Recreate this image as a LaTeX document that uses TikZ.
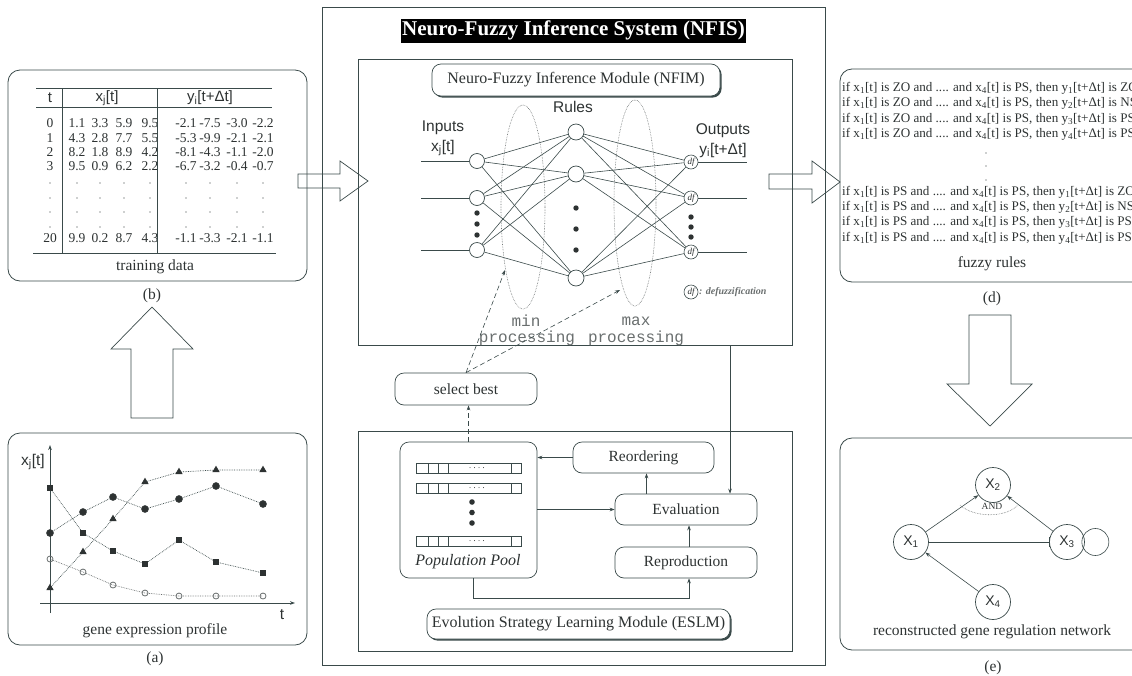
\documentclass[tikz,border=0pt]{standalone}
\usepackage{fontspec}
\setmainfont{Liberation Serif}
\setsansfont{Liberation Sans}
\setmonofont{Liberation Mono}
\usetikzlibrary{arrows.meta,calc,shadows,plotmarks}
\definecolor{ln}{RGB}{58,74,74}
\definecolor{tx}{RGB}{45,50,50}
\definecolor{gy}{RGB}{105,110,110}
\newcommand{\fs}[1]{\fontsize{#1}{#1}\selectfont}
\newcommand{\lo}[1]{\textsubscript{#1}}
\newcommand{\frule}[3]{if x\lo{1}[t] is #1 and .... and x\lo{4}[t] is PS, then y\lo{#2}[t+Δt] is #3}
\begin{document}
\begin{tikzpicture}[x=1pt,y=-1pt,
  every node/.style={text=tx},
  panel/.style={draw=ln, line width=0.8pt, rounded corners=12pt, inner sep=0pt},
  frame/.style={draw=ln, line width=0.8pt, inner sep=0pt},
  rbox/.style={draw=ln, line width=0.7pt, rounded corners=9pt, font=\fs{15.5}, inner sep=0pt},
  lbl/.style={font=\fs{15.5}},
  sflbl/.style={font=\sffamily\fs{15.5}},
  mono/.style={font=\ttfamily\fs{16}, text=gy, inner sep=0pt},
  num/.style={font=\fs{13.5}, inner sep=0pt},
  neuron/.style={circle, draw=ln, line width=0.7pt, minimum size=15pt, inner sep=0pt},
  dfn/.style={circle, draw=ln, line width=0.6pt, minimum size=14pt, inner sep=0pt, font=\itshape\fs{9}},
  wire/.style={draw=ln, line width=0.6pt},
  arr/.style={draw=ln, line width=0.6pt, -{Stealth[length=5pt,width=3.6pt]}},
  dasharr/.style={arr, dash pattern=on 5pt off 3pt},
  blockarrow/.style={draw=ln, line width=0.7pt, line join=miter},
  gene/.style={circle, draw=ln, line width=0.7pt, minimum size=35pt, inner sep=0pt, font=\sffamily\fs{14}},
  frl/.style={anchor=west, font=\fs{13.1}, inner sep=0pt},
]
\useasboundingbox (0,0) rectangle (1132,675);

%================ panel (b) training data
\node[panel, minimum width=299pt, minimum height=211pt] (pb) at (157.5,175.5) {};
\node[lbl] (lb) at (152,296) {(b)};
\draw[ln, line width=0.7pt] (36,88) -- (272,88);
\draw[ln, line width=0.7pt] (36,107) -- (272,107);
\draw[ln, line width=0.7pt] (33,253) -- (276,253);
\draw[ln, line width=0.7pt] (62,88) -- (62,253);
\draw[ln, line width=0.7pt] (157,88) -- (157,253);
\node[sflbl, font=\sffamily\fs{15}] (ht) at (50,98) {t};
\node[sflbl, font=\sffamily\fs{15}] (hx) at (107,98) {x\lo{j}[t]};
\node[sflbl, font=\sffamily\fs{15}] (hy) at (210,98) {y\lo{i}[t+Δt]};
\foreach \t/\a/\b/\c/\e/\f/\g/\h/\yy [count=\k] in
  {0/1.1/3.3/5.9/-2.1/-7.5/-3.0/-2.2/123,
   1/4.3/2.8/7.7/-5.3/-9.9/-2.1/-2.1/138,
   2/8.2/1.8/8.9/-8.1/-4.3/-1.1/-2.0/152,
   3/9.5/0.9/6.2/-6.7/-3.2/-0.4/-0.7/166,
   20/9.9/0.2/8.7/-1.1/-3.3/-2.1/-1.1/238}{
  \node[num] (tt\k) at (50,\yy) {\t};
  \node[num] (xa\k) at (77,\yy) {\a};
  \node[num] (xb\k) at (100,\yy) {\b};
  \node[num] (xc\k) at (124,\yy) {\c};
  \node[num] (ya\k) at (186,\yy) {\e};
  \node[num] (yb\k) at (210,\yy) {\f};
  \node[num] (yc\k) at (237,\yy) {\g};
  \node[num] (yd\k) at (263,\yy) {\h};
}
\begin{scope}
  \clip (135,110) rectangle (156.6,250);
  \foreach \d/\yy [count=\k] in {9.5/123,5.5/138,4.2/152,2.2/166,4.3/238}
    \node[num] (xd\k) at (150,\yy) {\d};
\end{scope}
\foreach \yy [count=\r] in {183,198,212,227}
  \foreach \xx [count=\c] in {50,77,100,124,150,186,210,237,263}
    \fill[tx] (\xx,\yy) circle (0.7pt);
\node[lbl] (ltd) at (155,267) {training data};

%================ panel (a) gene expression profile
\node[panel, minimum width=299pt, minimum height=212pt] (pa) at (157.5,539) {};
\node[lbl] (la) at (155,659) {(a)};
\coordinate (yb0) at (50,613); \coordinate (yt0) at (50,445);
\coordinate (xl0) at (40,603); \coordinate (xr0) at (295,603);
\draw[arr, line width=0.8pt] (yb0) -- (yt0);
\draw[arr, line width=0.8pt] (xl0) -- (xr0);
\node[sflbl] (lxj) at (33,462) {x\lo{j}[t]};
\node[sflbl] (lt) at (282,615) {t};
\node[lbl] (lgep) at (155,631) {gene expression profile};
\draw[ln, densely dotted, line width=0.7pt] plot[mark=triangle*, mark size=3.6pt, mark options={solid, fill=tx, draw=tx}]
  coordinates {(50,588) (83,552) (113,519) (145,482) (179,472) (216,470) (263,470)};
\draw[ln, densely dotted, line width=0.7pt] plot[mark=*, mark size=3.4pt, mark options={solid, fill=tx, draw=tx}]
  coordinates {(50,533) (83,512) (113,497) (145,509) (179,499) (216,486) (263,504)};
\draw[ln, densely dotted, line width=0.7pt] plot[mark=square*, mark size=2.4pt, mark options={solid, fill=tx, draw=tx}]
  coordinates {(50,488) (83,533) (113,551) (145,564) (179,540) (216,562) (263,573)};
\draw[gy, densely dotted, line width=0.7pt] plot[mark=o, mark size=3pt, mark options={solid, draw=gy, fill=white, line width=0.8pt}]
  coordinates {(50,559) (83,572) (113,585) (145,593) (179,596) (216,596) (263,596)};

%================ block arrows
\draw[blockarrow] (131,418) -- (131,349) -- (111,349) -- (152,307) -- (193,349) -- (173,349) -- (173,418) -- cycle;
\draw[blockarrow] (969,315) -- (969,384) -- (947,384) -- (990,426) -- (1032,384) -- (1011,384) -- (1011,315) -- cycle;
\draw[blockarrow] (298,174) -- (340,174) -- (340,161) -- (368,181) -- (340,201) -- (340,188) -- (298,188) -- cycle;
\draw[blockarrow] (769,174) -- (812,174) -- (812,161) -- (840,182) -- (812,203) -- (812,189) -- (769,189) -- cycle;

%================ NFIS
\node[frame, minimum width=503pt, minimum height=658pt] (nfis) at (573.5,336) {};
\node[fill=black, text=white, font=\bfseries\fs{21}, inner sep=1.5pt, minimum height=24pt] (nfist) at (573.5,30.5) {Neuro-Fuzzy Inference System (NFIS)};

% NFIM
\node[frame, minimum width=434pt, minimum height=286pt] (nfim) at (575,202) {};
\node[rbox, fill=white, minimum width=288pt, minimum height=32pt, font=\fs{16},
      drop shadow={shadow xshift=1.6pt, shadow yshift=-1.6pt, fill=ln, opacity=1}] (nfimt) at (576,80) {Neuro-Fuzzy Inference Module (NFIM)};

\draw[gy, densely dotted, line width=0.6pt] (523,207) ellipse [x radius=22pt, y radius=102pt];
\draw[gy, densely dotted, line width=0.6pt] (635,203) ellipse [x radius=21pt, y radius=103pt];

\foreach \n/\yy in {1/161,2/198,3/250}{
  \node[neuron] (i\n) at (477,\yy) {};
  \coordinate (ii\n) at (421,\yy);
  \draw[wire] (ii\n) -- (i\n);
}
\foreach \n/\yy in {1/132,2/174,3/278}
  \node[neuron, minimum size=16pt] (r\n) at (576,\yy) {};
\foreach \n/\yy in {1/162,2/198,3/252}{
  \node[dfn] (o\n) at (691,\yy) {df};
  \coordinate (oo\n) at (747,\yy);
  \draw[wire] (o\n) -- (oo\n);
}
\foreach \a in {1,2,3}
  \foreach \b in {1,2,3}{
    \draw[wire] (i\a) -- (r\b);
    \draw[wire] (r\a) -- (o\b);
  }
\foreach \yy in {213,224,235} \fill[tx] (477,\yy) circle (2.7pt);
\foreach \yy in {208,229,250} \fill[tx] (576,\yy) circle (2.7pt);
\foreach \yy in {217,227,237} \fill[tx] (691,\yy) circle (2.7pt);

\node[sflbl] (linp) at (443,128) {Inputs};
\node[sflbl] (linx) at (443,148) {x\lo{j}[t]};
\node[sflbl] (lrul) at (573,107) {Rules};
\node[sflbl] (lout) at (723,131) {Outputs};
\node[sflbl] (louty) at (723,150) {y\lo{i}[t+Δt]};

\node[mono] (lmin) at (526,321) {min};
\node[mono] (lminp) at (527,338) {processing};
\node[mono] (lmax) at (636,321) {max};
\node[mono] (lmaxp) at (636,338) {processing};

\node[dfn] (dfl) at (691,292) {df};
\node[anchor=west, inner sep=0pt, font=\bfseries\itshape\fs{10}, text=gy] (dfdef) at (699,292) {: defuzzification};

% select best
\node[rbox, minimum width=142pt, minimum height=32pt] (sel) at (466,389) {select best};
\coordinate (ellA) at (505,270);
\coordinate (ellB) at (620,290);
\draw[dasharr] (sel.north) -- (ellA);
\draw[dasharr] (sel.north) -- (ellB);

% ESLM
\node[frame, minimum width=434pt, minimum height=220pt] (eslm) at (575,541) {};
\node[rbox, minimum width=137pt, minimum height=136pt] (pool) at (468.5,510) {};
\node[font=\itshape\fs{16}, inner sep=0pt] (lpool) at (468,562) {Population Pool};
\foreach \yy in {463,483,536}{
  \draw[ln, line width=0.6pt] (416,\yy) rectangle (521,\yy+10.5);
  \foreach \xx in {428,438,448,511} \draw[ln, line width=0.6pt] (\xx,\yy) -- (\xx,\yy+10.5);
  \foreach \dx in {-7,-2.5,2,6.5} \fill[tx] (477+\dx,\yy+4.5) circle (0.5pt);
}
\foreach \yy in {502,512.5,523} \fill[tx] (472,\yy) circle (2.8pt);

\node[rbox, minimum width=141pt, minimum height=31pt] (reord) at (643.5,457.5) {Reordering};
\node[rbox, minimum width=142pt, minimum height=31pt] (eval) at (686,509.5) {Evaluation};
\node[rbox, minimum width=142pt, minimum height=31pt] (repro) at (686,562.5) {Reproduction};
\node[rbox, fill=white, minimum width=303pt, minimum height=30pt, font=\fs{16},
      drop shadow={shadow xshift=1.6pt, shadow yshift=-1.6pt, fill=ln, opacity=1}] (eslmt) at (578.5,624) {Evolution Strategy Learning Module (ESLM)};

\draw[arr] (reord.west) -- (reord.west -| pool.east);
\draw[arr] ([xshift=3pt]reord.south |- eval.north) -- ([xshift=3pt]reord.south);
\draw[arr] (pool.east |- eval.west) -- (eval.west);
\draw[arr] ([xshift=3pt]repro.north) -- ([xshift=3pt]eval.south);
\draw[arr] ([xshift=4.5pt]pool.south) -- ++(0,20) -| ([xshift=3pt]repro.south);
\draw[dasharr] (pool.north) -- (pool.north |- sel.south);
\coordinate (fb) at (730,345);
\draw[arr] (fb) -- (fb |- eval.north);

%================ panel (d) fuzzy rules
\node[panel, minimum width=305pt, minimum height=213pt] (pd) at (992.5,175.5) {};
\node[lbl] (ld) at (992,299) {(d)};
\foreach \a/\b/\c/\yy [count=\k] in
  {ZO/1/ZO/88, ZO/2/NS/103, ZO/3/PS/119, ZO/4/PS/134,
   PS/1/ZO/192, PS/2/NS/207, PS/3/PS/222, PS/4/PS/238}
  \node[frl] (fr\k) at (842,\yy) {\frule{\a}{\b}{\c}};
\foreach \yy in {153,166,180} \fill[tx] (986,\yy) circle (0.7pt);
\node[lbl] (lfr) at (992,264) {fuzzy rules};

%================ panel (e) gene regulation network
\node[panel, minimum width=305pt, minimum height=212pt] (pe) at (992.5,544) {};
\node[lbl] (le) at (993,668) {(e)};
\node[gene] (x2) at (993,485) {X\lo{2}};
\node[gene] (x1) at (911,542) {X\lo{1}};
\node[gene] (x3) at (1067,542) {X\lo{3}};
\node[gene] (x4) at (993,602) {X\lo{4}};
\draw[arr] (x1) -- (x2);
\draw[arr] (x3) -- (x2);
\draw[wire, -{Bar[width=10pt]}] (x1) -- (x3);
\draw[arr] (x4) -- (x1);
\begin{scope}
  \clip (1060,520) rectangle (1130,565) (x3.center) circle (17.5pt);
\end{scope}
\draw[wire] ($(x3.east)+(10.5,0)$) circle (13.5pt);
\draw[gy, line width=0.6pt, densely dotted] (960,505) .. controls (974,518) and (1006,518) .. (1018,505);
\node[font=\fs{9.5}, inner sep=0pt] (land) at (992,506) {AND};
\node[lbl] (lgrn) at (992,632) {reconstructed gene regulation network};

\end{tikzpicture}
\end{document}
